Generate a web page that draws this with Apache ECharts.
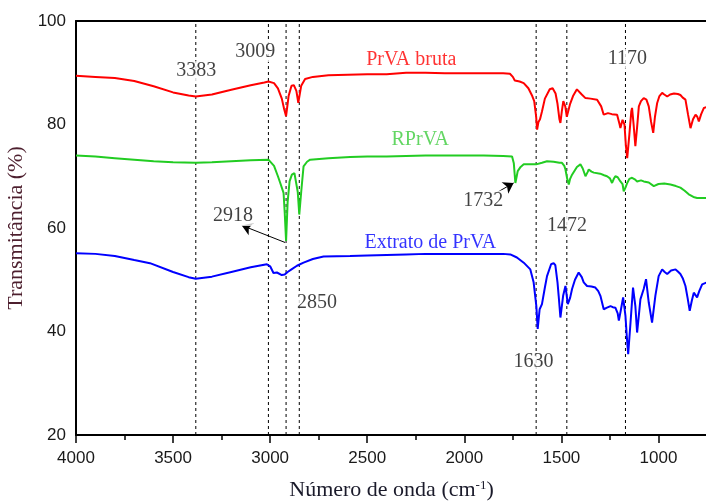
<!DOCTYPE html>
<html><head><meta charset="utf-8">
<script src="https://cdn.jsdelivr.net/npm/echarts@6.0.0/dist/echarts.min.js"></script>
<style>html,body{margin:0;padding:0;background:#fff}#c{width:706px;height:503px}</style>
</head><body><div id="c"></div>
<script>
// ---------- data ----------
const xTickLabels = [1000, 1500, 2000, 2500, 3000, 3500, 4000];
const xMinorTicks = [1250, 1750, 2250, 2750, 3250, 3750];
const yTicks = [20, 40, 60, 80, 100];

const redSpectrum = [[4000,89.4],[3900,89.2],[3800,89.0],[3700,88.4],[3600,87.4],[3500,86.2],[3420,85.6],[3383,85.4],[3300,85.8],[3200,86.7],[3100,87.6],[3030,88.1],[3009,88.3],[2980,88.0],[2960,87.0],[2940,85.0],[2928,83.0],[2918,81.6],[2905,85.5],[2890,87.5],[2878,87.6],[2865,86.5],[2855,84.2],[2850,84.5],[2840,87.5],[2820,88.8],[2780,89.2],[2700,89.5],[2600,89.6],[2500,89.7],[2400,89.7],[2300,90.0],[2200,90.0],[2100,89.9],[2000,89.9],[1900,89.9],[1800,89.9],[1765,89.8],[1750,89.2],[1740,88.5],[1732,88.2],[1715,88.3],[1694,88.0],[1670,87.0],[1650,85.5],[1640,84.5],[1630,81.5],[1625,79.0],[1618,80.5],[1610,81.0],[1600,82.5],[1585,85.0],[1560,86.8],[1545,87.0],[1530,86.0],[1520,84.0],[1510,81.0],[1505,80.3],[1498,82.5],[1490,84.5],[1480,83.5],[1472,81.5],[1467,81.2],[1455,84.0],[1440,85.5],[1420,86.8],[1410,86.6],[1395,85.8],[1376,85.1],[1350,85.0],[1316,84.8],[1295,83.5],[1282,81.9],[1260,82.2],[1240,82.0],[1213,81.9],[1200,80.0],[1196,79.3],[1185,80.9],[1175,80.0],[1168,76.0],[1161,73.5],[1150,78.0],[1140,82.5],[1136,83.2],[1128,80.0],[1119,75.8],[1110,79.5],[1101,83.5],[1090,84.5],[1076,85.1],[1062,84.8],[1050,83.5],[1038,80.5],[1027,78.4],[1018,81.5],[1007,84.1],[995,85.5],[981,86.1],[970,85.8],[955,85.4],[940,85.8],[920,86.0],[900,85.9],[887,85.7],[875,85.2],[861,84.8],[848,82.0],[835,79.3],[822,81.0],[809,81.9],[800,81.5],[792,80.6],[780,82.0],[766,83.2],[750,83.4]];

const greenSpectrum = [[4000,74.0],[3900,73.8],[3800,73.5],[3700,73.2],[3600,72.9],[3500,72.7],[3383,72.6],[3300,72.7],[3200,72.9],[3100,73.1],[3009,73.2],[2980,72.0],[2960,70.0],[2948,68.7],[2931,66.8],[2925,63.0],[2918,57.5],[2910,65.0],[2900,69.0],[2888,70.3],[2875,70.6],[2868,70.5],[2858,67.0],[2850,62.6],[2840,67.0],[2828,71.9],[2810,72.8],[2794,73.2],[2700,73.5],[2588,73.7],[2500,73.8],[2400,73.8],[2300,73.9],[2200,74.0],[2100,74.0],[2000,74.0],[1900,74.0],[1800,73.9],[1754,73.8],[1745,72.5],[1737,68.7],[1730,70.0],[1725,71.0],[1710,71.8],[1694,72.3],[1660,72.3],[1630,72.3],[1600,72.6],[1574,72.9],[1540,72.8],[1510,72.6],[1497,72.6],[1485,72.0],[1479,71.3],[1470,69.5],[1462,68.4],[1455,69.5],[1445,70.3],[1420,71.8],[1402,72.3],[1390,71.5],[1376,70.0],[1365,70.8],[1359,71.3],[1345,70.9],[1333,70.7],[1300,70.5],[1280,70.2],[1265,70.0],[1250,69.6],[1239,68.7],[1230,69.5],[1222,70.0],[1210,69.8],[1196,69.0],[1185,68.5],[1179,67.1],[1170,67.8],[1161,68.7],[1150,69.5],[1136,69.7],[1122,69.4],[1110,69.0],[1090,69.2],[1076,69.0],[1050,68.8],[1024,68.1],[1000,68.5],[970,68.6],[938,68.4],[910,68.1],[887,67.8],[865,67.2],[844,66.5],[820,66.0],[801,65.8],[780,65.8],[750,65.8]];

const blueSpectrum = [[4000,55.1],[3900,55.0],[3800,54.6],[3700,53.8],[3619,53.2],[3500,51.5],[3420,50.5],[3383,50.2],[3300,50.6],[3200,51.5],[3100,52.4],[3017,53.0],[3000,52.6],[2983,51.3],[2965,51.4],[2955,51.6],[2940,50.9],[2925,51.0],[2910,51.5],[2890,52.0],[2862,52.7],[2828,53.3],[2780,54.0],[2725,54.5],[2588,54.6],[2500,54.7],[2400,54.8],[2300,54.9],[2200,55.0],[2100,55.0],[2000,55.0],[1900,55.0],[1800,55.0],[1763,54.9],[1729,54.3],[1694,53.3],[1660,52.0],[1643,49.5],[1629,44.9],[1622,40.5],[1612,44.3],[1600,45.3],[1585,48.5],[1574,50.7],[1553,53.0],[1540,53.2],[1531,52.8],[1520,49.5],[1514,46.9],[1505,42.7],[1491,46.9],[1479,48.8],[1467,45.3],[1455,46.5],[1445,48.2],[1430,50.0],[1411,51.4],[1395,50.5],[1385,49.5],[1368,48.8],[1345,48.7],[1325,48.5],[1310,47.8],[1299,46.9],[1282,44.3],[1265,44.6],[1247,44.9],[1235,44.7],[1222,44.6],[1210,43.5],[1204,42.1],[1192,44.5],[1182,46.6],[1170,43.0],[1163,39.0],[1156,35.6],[1144,41.7],[1131,48.5],[1119,44.9],[1110,39.8],[1100,43.5],[1093,46.2],[1076,48.2],[1064,50.1],[1050,45.6],[1033,41.7],[1016,46.9],[999,50.7],[981,52.0],[968,51.5],[955,51.1],[935,51.8],[912,52.0],[900,51.6],[887,51.1],[875,50.3],[861,48.8],[850,46.5],[839,44.0],[828,46.0],[818,47.5],[810,47.3],[801,46.6],[790,47.8],[775,49.1],[750,49.5]];

const peakLines = [3383, 3009, 2918, 2850, 1630, 1472, 1170];

const labelTexts  = ['3383', '3009', '2918', '2850', '1630', '1472', '1170', '1732', 'PrVA bruta', 'RPrVA', 'Extrato de PrVA'];
const labelX      = [3381, 3077, 3191, 2759, 1643, 1471, 1160, 1902, 2273, 2227, 2175];
const labelY      = [90.3, 94.0, 62.3, 45.6, 34.2, 60.5, 92.7, 65.3, 92.5, 77.1, 57.2];
const labelColors = ['#111','#111','#111','#111','#111','#111','#111','#111','#ff0000','#3ccc3c','#0000ff'];

const arrowFrom = [[2923, 57.2], [1849, 66.5]];
const arrowTo   = [[3146, 60.5], [1746, 68.7]];
// --------------------------

const chart = echarts.init(document.getElementById('c'), null, {renderer: 'canvas'});
const serif = '"Liberation Serif", "Times New Roman", serif';
const sans = '"Liberation Sans", Arial, sans-serif';

const series = [];
peakLines.forEach(v => {
  series.push({
    type: 'line', data: [[v, 20], [v, 100]], showSymbol: false, silent: true, z: 1,
    lineStyle: {color: '#000', width: 1, type: [3, 3]}
  });
});
series.push(
  {name: 'PrVA bruta', type: 'line', data: redSpectrum, showSymbol: false, z: 3,
   lineStyle: {color: '#ff0000', width: 2}},
  {name: 'RPrVA', type: 'line', data: greenSpectrum, showSymbol: false, z: 3,
   lineStyle: {color: '#22cc22', width: 2}},
  {name: 'Extrato de PrVA', type: 'line', data: blueSpectrum, showSymbol: false, z: 3,
   lineStyle: {color: '#0000ff', width: 2}}
);
series.push({
  type: 'scatter', symbolSize: 0, z: 10, silent: true,
  data: labelTexts.map((t, i) => ({
    value: [labelX[i], labelY[i]],
    label: {
      show: true, position: 'inside', formatter: t, color: labelColors[i],
      fontFamily: serif, fontSize: 20,
      backgroundColor: i < 8 ? '#fff' : 'transparent', padding: [0, 0]
    }
  })),
  markLine: {
    silent: true, symbol: ['none', 'arrow'], symbolSize: 10,
    lineStyle: {color: '#000', width: 1, type: 'solid'},
    label: {show: false},
    data: arrowFrom.map((f, i) => [{coord: f}, {coord: arrowTo[i]}])
  }
});

chart.setOption({
  animation: false,
  backgroundColor: '#fff',
  grid: {left: 76, right: -1, top: 21, bottom: 68, containLabel: false, outerBoundsMode: 'none'},
  xAxis: [
    {
      type: 'value', inverse: true, min: 750, max: 4000, position: 'bottom',
      axisLine: {show: true, lineStyle: {color: '#000', width: 2}},
      axisTick: {show: true, customValues: xTickLabels, length: 8, lineStyle: {color: '#000', width: 1.5}},
      axisLabel: {customValues: xTickLabels, fontSize: 17, color: '#1a1a1a', fontFamily: sans, margin: 15,
                  formatter: v => String(v)},
      splitLine: {show: false},
      name: 'Número de onda (cm{sup|-1})', nameLocation: 'middle', nameGap: 44,
      nameTextStyle: {fontFamily: serif, fontSize: 22, color: '#1a1a2a',
        rich: {sup: {fontFamily: serif, fontSize: 13, color: '#1a1a2a', verticalAlign: 'top', padding: [0, 0, 10, 0]}}}
    },
    {
      type: 'value', inverse: true, min: 750, max: 4000, position: 'bottom', offset: 0,
      axisLine: {show: false},
      axisTick: {show: true, customValues: xMinorTicks, length: 5, lineStyle: {color: '#000', width: 1.5}},
      axisLabel: {show: false}, splitLine: {show: false}
    },
    {
      type: 'value', inverse: true, min: 750, max: 4000, position: 'top',
      axisLine: {show: true, lineStyle: {color: '#000', width: 2}},
      axisTick: {show: false}, axisLabel: {show: false}, splitLine: {show: false}
    }
  ],
  yAxis: {
    type: 'value', min: 20, max: 100, interval: 20,
    axisLine: {show: true, lineStyle: {color: '#000', width: 2}},
    axisTick: {show: false},
    axisLabel: {fontSize: 17, color: '#1a1a1a', fontFamily: sans, margin: 10, customValues: yTicks},
    splitLine: {show: false},
    name: 'Transmitância (%)', nameLocation: 'middle', nameGap: 43,
    nameTextStyle: {fontFamily: serif, fontSize: 22, color: '#4d1f2e'}
  },
  series: series
});
</script></body></html>
